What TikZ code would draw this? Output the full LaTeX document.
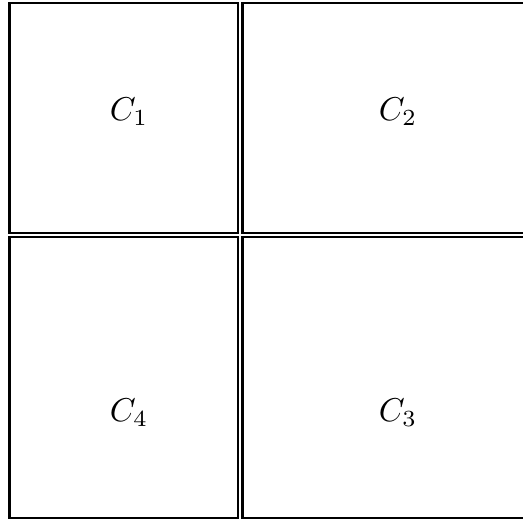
\documentclass[tikz,border=0pt]{standalone}
\usepackage{graphicx}
\begin{document}
\begin{tikzpicture}[x=1pt,y=-1pt,
  cell/.style={draw=black,line width=2.4pt,inner sep=0pt,outer sep=0pt},
  lab/.style={inner sep=0pt}]
\useasboundingbox (0,0) rectangle (523,521);
\node[cell,minimum width=228.5pt,minimum height=230pt,anchor=north west] (c1) at (9.5,3) {};
\node[cell,minimum width=290pt,minimum height=230pt,anchor=north west] (c2) at (242.5,3) {};
\node[cell,minimum width=228.5pt,minimum height=281pt,anchor=north west] (c4) at (9.5,237) {};
\node[cell,minimum width=290pt,minimum height=281pt,anchor=north west] (c3) at (242.5,237) {};
\node[lab] (t1) at (129,112) {\scalebox{3.3}{$C_1$}};
\node[lab] (t2) at (398,112) {\scalebox{3.3}{$C_2$}};
\node[lab] (t4) at (129,413) {\scalebox{3.3}{$C_4$}};
\node[lab] (t3) at (398,413) {\scalebox{3.3}{$C_3$}};
\end{tikzpicture}
\end{document}
